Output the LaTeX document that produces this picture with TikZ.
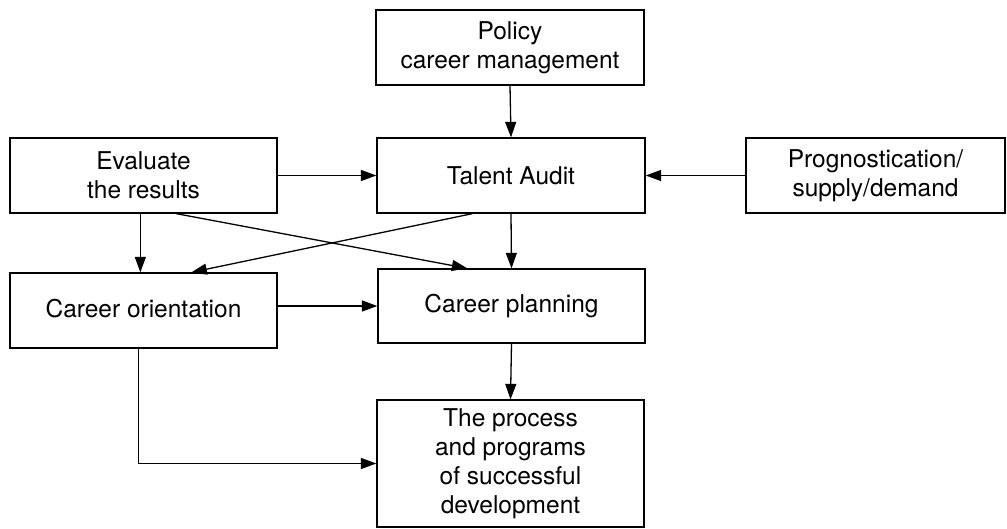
\documentclass[tikz,border=0pt]{standalone}
\usepackage{fontspec}
\setmainfont{TeX Gyre Heros}
\usetikzlibrary{arrows.meta,calc}
\begin{document}
\begin{tikzpicture}[x=1pt,y=-1pt,
  box/.style={draw=black,line width=1.3pt,inner sep=0pt,align=center,
    font=\fontsize{24.5}{29}\selectfont},
  arr/.style={draw=black,line width=1.3pt,-{Triangle[length=15.5pt,width=11pt]}}]
\useasboundingbox (0,0) rectangle (1007,528);
\node[box,minimum width=268pt,minimum height=75pt] (policy) at (510,47.5) {Policy\\career management};
\node[box,minimum width=267pt,minimum height=75pt] (evaluate) at (143.5,175.5) {Evaluate\\the results};
\node[box,minimum width=268pt,minimum height=75pt] (talent) at (511,175.5) {Talent Audit};
\node[box,minimum width=259pt,minimum height=75pt] (prog) at (875.5,175.5) {Prognostication/\\supply/demand};
\node[box,minimum width=267pt,minimum height=75pt] (orient) at (143.5,310.5) {\raisebox{4pt}{Career orientation}};
\node[box,minimum width=267pt,minimum height=74pt] (planning) at (511.5,306) {\raisebox{4pt}{Career planning}};
\node[box,minimum width=267pt,minimum height=127pt] (process) at (510.5,463.5) {The process\\and programs\\of successful\\development};
\draw[arr] (policy.south) -- (talent.north);
\draw[arr] (evaluate.east) -- (talent.west);
\draw[arr] (prog.west) -- (talent.east);
\draw[arr] ($(evaluate.south west)+(131,0)$) -- ($(orient.north west)+(131,0)$);
\draw[arr] ($(evaluate.south west)+(167,0)$) -- ($(planning.north west)+(90,0)$);
\draw[arr] ($(talent.south west)+(96,0)$) -- ($(orient.north west)+(182,0)$);
\draw[arr] (talent.south) -- (planning.north);
\draw[arr] (orient.east |- planning.west) -- (planning.west);
\draw[arr] (planning.south) -- (process.north);
\draw[arr] ($(orient.south west)+(129,0)$) |- (process.west);
\end{tikzpicture}
\end{document}
